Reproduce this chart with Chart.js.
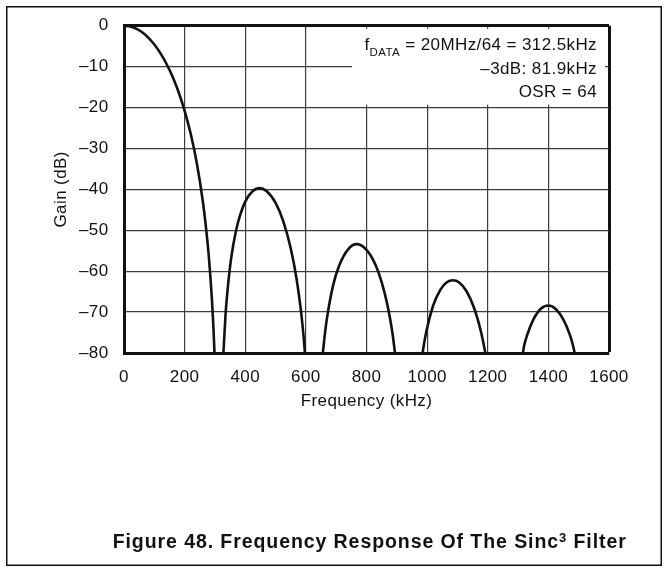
<!DOCTYPE html>
<html>
<head>
<meta charset="utf-8">
<script src="https://cdn.jsdelivr.net/npm/chart.js@4.4.1/dist/chart.umd.min.js"></script>
<style>
html,body{margin:0;padding:0;background:#fff;}
#wrap{width:669px;height:568px;position:relative;}
</style>
</head>
<body>
<div id="wrap"><canvas id="c"></canvas></div>
<script>
// ---- data ----
const xTickValues = [0, 200, 400, 600, 800, 1000, 1200, 1400, 1600];
const xTickLabels = ['0', '200', '400', '600', '800', '1000', '1200', '1400', '1600'];
const yTickValues = [0, -10, -20, -30, -40, -50, -60, -70, -80];
const yTickLabels = ['0', '–10', '–20', '–30', '–40', '–50', '–60', '–70', '–80'];

// Frequency (kHz) / Gain (dB) of each lobe
const lobe1Freq = [0, 20, 40, 60, 80, 100, 120, 140, 160, 180, 200, 220, 240, 260, 270, 280, 290, 295, 298.5];
const lobe1Gain = [0, -0.2, -0.7, -1.6, -2.9, -4.6, -6.7, -9.3, -12.4, -16.2, -20.8, -26.4, -33.5, -42.9, -49.0, -56.6, -66.8, -73.7, -80];

const lobe2Freq = [328, 335, 340, 350, 360, 375, 400, 425, 447, 470, 500, 525, 550, 570, 585, 592, 597];
const lobe2Gain = [-80, -70.6, -65.9, -58.8, -53.8, -48.4, -43.0, -40.4, -39.7, -40.4, -43.3, -47.7, -54.4, -62.2, -70.5, -75.6, -80];

const lobe3Freq = [656, 662, 670, 690, 710, 740, 768, 800, 830, 850, 870, 885, 894];
const lobe3Gain = [-80, -75.8, -71.3, -63.4, -58.6, -54.6, -53.4, -54.8, -58.5, -62.7, -68.6, -74.8, -80];

const lobe4Freq = [985, 992, 1000, 1020, 1045, 1065, 1085, 1105, 1130, 1155, 1175, 1185, 1192];
const lobe4Gain = [-80, -76.8, -73.9, -68.4, -64.4, -62.7, -62.2, -62.7, -64.9, -69.0, -74.0, -77.3, -80];

const lobe5Freq = [1316, 1320, 1330, 1350, 1375, 1400, 1425, 1450, 1470, 1480, 1487];
const lobe5Gain = [-80, -78.2, -75.6, -71.9, -69.2, -68.4, -69.3, -71.9, -75.4, -77.8, -80];

const annotationMain = 'f';
const annotationSub = 'DATA';
const annotationRest = ' = 20MHz/64 = 312.5kHz';
const annotationLine2 = '–3dB: 81.9kHz';
const annotationLine3 = 'OSR = 64';
const captionMain = 'Figure 48. Frequency Response Of The Sinc';
const captionSup = '3';
const captionEnd = ' Filter';
const xTitle = 'Frequency (kHz)';
const yTitle = 'Gain (dB)';

// ---- styling ----
const FONT = '"Liberation Sans", Arial, Helvetica, sans-serif';
const INK = '#111';
const GRID = '#3c3c3c';

const lobes = [
  [lobe1Freq, lobe1Gain], [lobe2Freq, lobe2Gain], [lobe3Freq, lobe3Gain],
  [lobe4Freq, lobe4Gain], [lobe5Freq, lobe5Gain]
];
const datasets = lobes.map(([fx, gy]) => ({
  data: fx.map((f, i) => ({x: f, y: gy[i]})),
  borderColor: INK,
  borderWidth: 2.6,
  pointRadius: 0,
  fill: false,
  cubicInterpolationMode: 'monotone'
}));

const spacingPlugin = {
  id: 'spacing',
  beforeDraw(chart) { chart.ctx.letterSpacing = '0.4px'; }
};

const notePlugin = {
  id: 'note',
  beforeDatasetsDraw(chart) {
    const {ctx, chartArea: a} = chart;
    ctx.save();
    ctx.fillStyle = '#fff';
    ctx.fillRect(a.right - 257, a.top + 3, 253, 76);
    ctx.fillStyle = INK;
    ctx.textBaseline = 'alphabetic';
    ctx.textAlign = 'left';
    const right = a.right - 12;
    const big = '17px ' + FONT, small = '11.5px ' + FONT;
    ctx.font = big;
    const wMain = ctx.measureText(annotationMain).width;
    const wRest = ctx.measureText(annotationRest).width;
    ctx.font = small;
    const wSub = ctx.measureText(annotationSub).width;
    let x = right - (wMain + wSub + wRest);
    const b1 = a.top + 24.3;
    ctx.font = big; ctx.fillText(annotationMain, x, b1); x += wMain;
    ctx.font = small; ctx.fillText(annotationSub, x, b1 + 5.7); x += wSub;
    ctx.font = big; ctx.fillText(annotationRest, x, b1);
    ctx.textAlign = 'right';
    ctx.fillText(annotationLine2, right, a.top + 48.7);
    ctx.fillText(annotationLine3, right, a.top + 71.7);
    ctx.restore();
  },
  afterDraw(chart) {
    const ctx = chart.ctx;
    ctx.save();
    // outer frame
    ctx.strokeStyle = INK;
    ctx.lineWidth = 1.5;
    ctx.strokeRect(6.75, 6.75, 654.5, 558.5);
    // caption
    const parts = [
      [captionMain, 'bold 19.5px ' + FONT, 0],
      [captionSup, 'bold 13px ' + FONT, -6.8],
      [captionEnd, 'bold 19.5px ' + FONT, 0]
    ];
    ctx.fillStyle = INK;
    ctx.textAlign = 'left';
    ctx.textBaseline = 'alphabetic';
    ctx.letterSpacing = '0px';
    let w0 = 0, n = 0;
    parts.forEach(([t, f]) => { ctx.font = f; w0 += ctx.measureText(t).width; n += t.length; });
    const targetLeft = 112.7, targetWidth = 514;
    const sp = Math.max(0, Math.min(2.5, (targetWidth - w0) / n));
    ctx.letterSpacing = sp + 'px';
    let x = targetLeft;
    const base = 548.3;
    parts.forEach(([t, f, dy]) => {
      ctx.font = f;
      ctx.fillText(t, x, base + dy);
      x += ctx.measureText(t).width;
    });
    ctx.restore();
  }
};

new Chart(document.getElementById('c'), {
  type: 'line',
  data: { datasets },
  plugins: [spacingPlugin, notePlugin],
  options: {
    responsive: true,
    maintainAspectRatio: false,
    animation: false,
    events: [],
    layout: { padding: { left: 0, right: 60, top: 24, bottom: 145 } },
    plugins: {
      legend: { display: false },
      tooltip: { enabled: false },
      title: { display: false }
    },
    scales: {
      x: {
        type: 'linear',
        min: 0, max: 1600,
        afterFit(s) { s.height = 70; },
        afterBuildTicks(s) { s.ticks = xTickValues.map(v => ({value: v})); },
        ticks: {
          padding: 13.8,
          color: INK,
          font: { family: FONT, size: 17 },
          maxRotation: 0,
          callback: (v) => xTickLabels[xTickValues.indexOf(v)]
        },
        grid: {
          drawTicks: false,
          color: (c) => (c.tick && c.tick.value === 1600) ? INK : GRID,
          lineWidth: (c) => (c.tick && c.tick.value === 1600) ? 3 : 1.2
        },
        border: { display: true, color: INK, width: 3 },
        title: {
          display: true, text: xTitle, color: INK,
          font: { family: FONT, size: 17 },
          padding: { top: 0, bottom: 11.9 }
        }
      },
      y: {
        type: 'linear',
        min: -80, max: 0,
        afterFit(s) { s.width = 124; },
        afterBuildTicks(s) { s.ticks = yTickValues.slice().reverse().map(v => ({value: v})); },
        ticks: {
          padding: 15.5,
          color: INK,
          font: { family: FONT, size: 17 },
          callback: (v) => yTickLabels[yTickValues.indexOf(v)]
        },
        grid: {
          drawTicks: false,
          color: (c) => (c.tick && c.tick.value === 0) ? INK : GRID,
          lineWidth: (c) => (c.tick && c.tick.value === 0) ? 3 : 1.2
        },
        border: { display: true, color: INK, width: 3 },
        title: {
          display: true, text: yTitle, color: INK,
          font: { family: FONT, size: 17 },
          padding: { top: 51.4, bottom: 0 }
        }
      }
    }
  }
});
</script>
</body>
</html>
